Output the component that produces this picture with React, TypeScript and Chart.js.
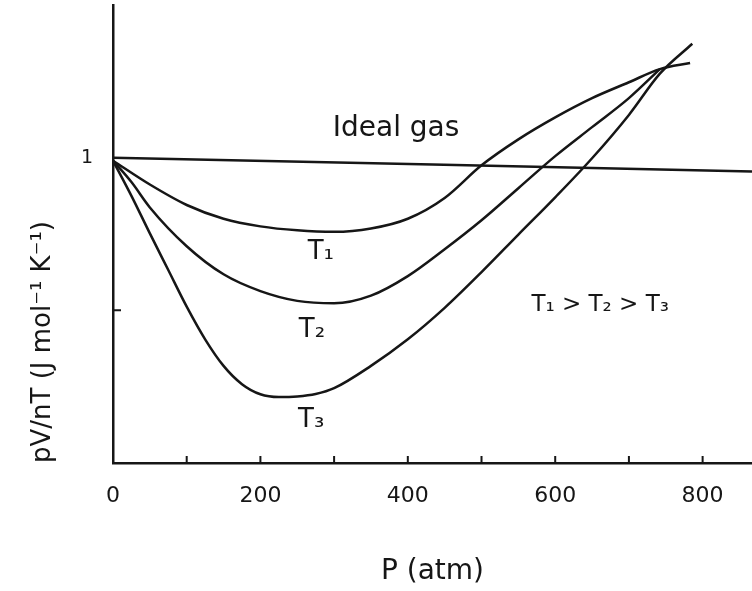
import React, { useEffect, useRef } from 'react';
import { Chart, registerables } from 'chart.js';

Chart.register(...registerables);

// Pressure (atm) and pV/nT readings for each isotherm
const PRESSURE_T1 = [0, 50, 100, 150, 200, 250, 300, 350, 400, 450, 500, 550, 600, 650, 700, 742, 783];
const PV_T1 = [0.99, 0.912, 0.845, 0.8, 0.775, 0.762, 0.757, 0.768, 0.8, 0.868, 0.975, 1.06, 1.132, 1.195, 1.247, 1.29, 1.31];

const PRESSURE_T2 = [0, 25, 50, 100, 150, 200, 250, 300, 350, 400, 450, 500, 550, 600, 650, 700, 742];
const PV_T2 = [0.99, 0.92, 0.837, 0.71, 0.618, 0.563, 0.531, 0.523, 0.548, 0.612, 0.7, 0.795, 0.9, 1.005, 1.1, 1.195, 1.29];

const PRESSURE_T3 = [0, 25, 50, 75, 100, 125, 150, 175, 200, 225, 250, 275, 300, 350, 400, 450, 500, 550, 600, 650, 700, 742, 786];
const PV_T3 = [0.99, 0.875, 0.752, 0.632, 0.512, 0.405, 0.318, 0.258, 0.225, 0.216, 0.218, 0.226, 0.245, 0.318, 0.405, 0.508, 0.625, 0.748, 0.87, 0.998, 1.14, 1.275, 1.373];

const PRESSURE_IDEAL = [0, 867];
const PV_IDEAL = [1.0, 0.955];

// Axis ranges and tick spacing
const P_MAX = 867;
const P_STEP = 100;
const P_LABEL_STEP = 200;
const PV_MAX = 1.5;
const PV_STEP = 0.5;
const PV_LABELS = [1];

// Text notes written on the plot, anchored in data coordinates
const NOTE_TEXT = ['Ideal gas', 'T₁', 'T₂', 'T₃', 'T₁ > T₂ > T₃'];
const NOTE_P = [384, 282, 270, 269, 661];
const NOTE_PV = [1.095, 0.69, 0.435, 0.14, 0.516];

const INK = '#161616';
const FONT = '"DejaVu Sans", sans-serif';

const toPoints = (xs: number[], ys: number[]) => xs.map((x, i) => ({ x, y: ys[i] }));

const inwardTicks = {
  id: 'inwardTicks',
  afterDraw(chart: any) {
    const { ctx, chartArea, scales } = chart;
    const x = scales.x;
    const y = scales.y;
    ctx.save();
    ctx.strokeStyle = INK;
    ctx.lineWidth = 2;
    ctx.beginPath();
    x.ticks.forEach((t: any) => {
      if (t.value > 0 && t.value % P_STEP === 0) {
        const px = x.getPixelForValue(t.value);
        ctx.moveTo(px, chartArea.bottom);
        ctx.lineTo(px, chartArea.bottom - 7);
      }
    });
    y.ticks.forEach((t: any) => {
      if (t.value > 0 && t.value < 1) {
        const py = y.getPixelForValue(t.value);
        ctx.moveTo(chartArea.left, py);
        ctx.lineTo(chartArea.left + 8, py);
      }
    });
    ctx.stroke();
    ctx.restore();
  },
};

const notes = {
  id: 'notes',
  afterDatasetsDraw(chart: any) {
    const { ctx, scales } = chart;
    ctx.save();
    ctx.fillStyle = INK;
    ctx.textAlign = 'center';
    ctx.textBaseline = 'middle';
    NOTE_TEXT.forEach((text, i) => {
      const size = i === 0 ? 28 : i === 4 ? 23 : 26;
      ctx.font = `${size}px ${FONT}`;
      ctx.fillText(text, scales.x.getPixelForValue(NOTE_P[i]), scales.y.getPixelForValue(NOTE_PV[i]));
    });
    ctx.restore();
  },
};

export default function App() {
  const canvasRef = useRef<HTMLCanvasElement | null>(null);

  useEffect(() => {
    if (!canvasRef.current) return;
    const line = (data: { x: number; y: number }[]) => ({
      data,
      borderColor: INK,
      borderWidth: 2.5,
      pointRadius: 0,
      fill: false,
      cubicInterpolationMode: 'monotone' as const,
    });
    const chart = new Chart(canvasRef.current, {
      type: 'line',
      data: {
        datasets: [
          { label: 'Ideal gas', ...line(toPoints(PRESSURE_IDEAL, PV_IDEAL)) },
          { label: 'T1', ...line(toPoints(PRESSURE_T1, PV_T1)) },
          { label: 'T2', ...line(toPoints(PRESSURE_T2, PV_T2)) },
          { label: 'T3', ...line(toPoints(PRESSURE_T3, PV_T3)) },
        ],
      },
      options: {
        animation: false,
        responsive: false,
        layout: { padding: { top: 5, right: 0, bottom: 0, left: 0 } },
        plugins: {
          legend: { display: false },
          tooltip: { enabled: false },
        },
        scales: {
          x: {
            type: 'linear',
            min: 0,
            max: P_MAX,
            grid: { display: false, drawTicks: false },
            border: { color: INK, width: 2.5 },
            ticks: {
              stepSize: P_STEP,
              includeBounds: false,
              autoSkip: false,
              maxRotation: 0,
              padding: 20,
              color: INK,
              font: { family: FONT, size: 22 },
              callback: (v: any) => (Number(v) % P_LABEL_STEP === 0 ? String(v) : ''),
            },
            title: {
              display: true,
              text: 'P (atm)',
              color: INK,
              font: { family: FONT, size: 28 },
              padding: { top: 0, bottom: 2 },
            },
            afterFit: (s: any) => {
              s.height = 128;
              s.paddingLeft = 0;
              s.paddingRight = 0;
            },
          },
          y: {
            min: 0,
            max: PV_MAX,
            grid: { display: false, drawTicks: false },
            border: { color: INK, width: 2.5 },
            ticks: {
              stepSize: PV_STEP,
              includeBounds: false,
              autoSkip: false,
              padding: 20,
              color: INK,
              font: { family: FONT, size: 19 },
              callback: (v: any) => (PV_LABELS.includes(Number(v)) ? String(v) : ''),
            },
            title: {
              display: true,
              text: 'pV/nT (J mol⁻¹ K⁻¹)',
              align: 'start',
              color: INK,
              font: { family: FONT, size: 26 },
              padding: { top: 28, bottom: 0 },
            },
            afterFit: (s: any) => {
              s.width = 113;
              s.paddingTop = 0;
              s.paddingBottom = 0;
            },
          },
        },
      },
      plugins: [inwardTicks, notes],
    } as any);
    return () => chart.destroy();
  }, []);

  return (
    <div style={{ position: 'absolute', left: 0, top: 0, width: 752, height: 591, background: '#fff' }}>
      <canvas ref={canvasRef} width={752} height={591} style={{ display: 'block' }} />
    </div>
  );
}
